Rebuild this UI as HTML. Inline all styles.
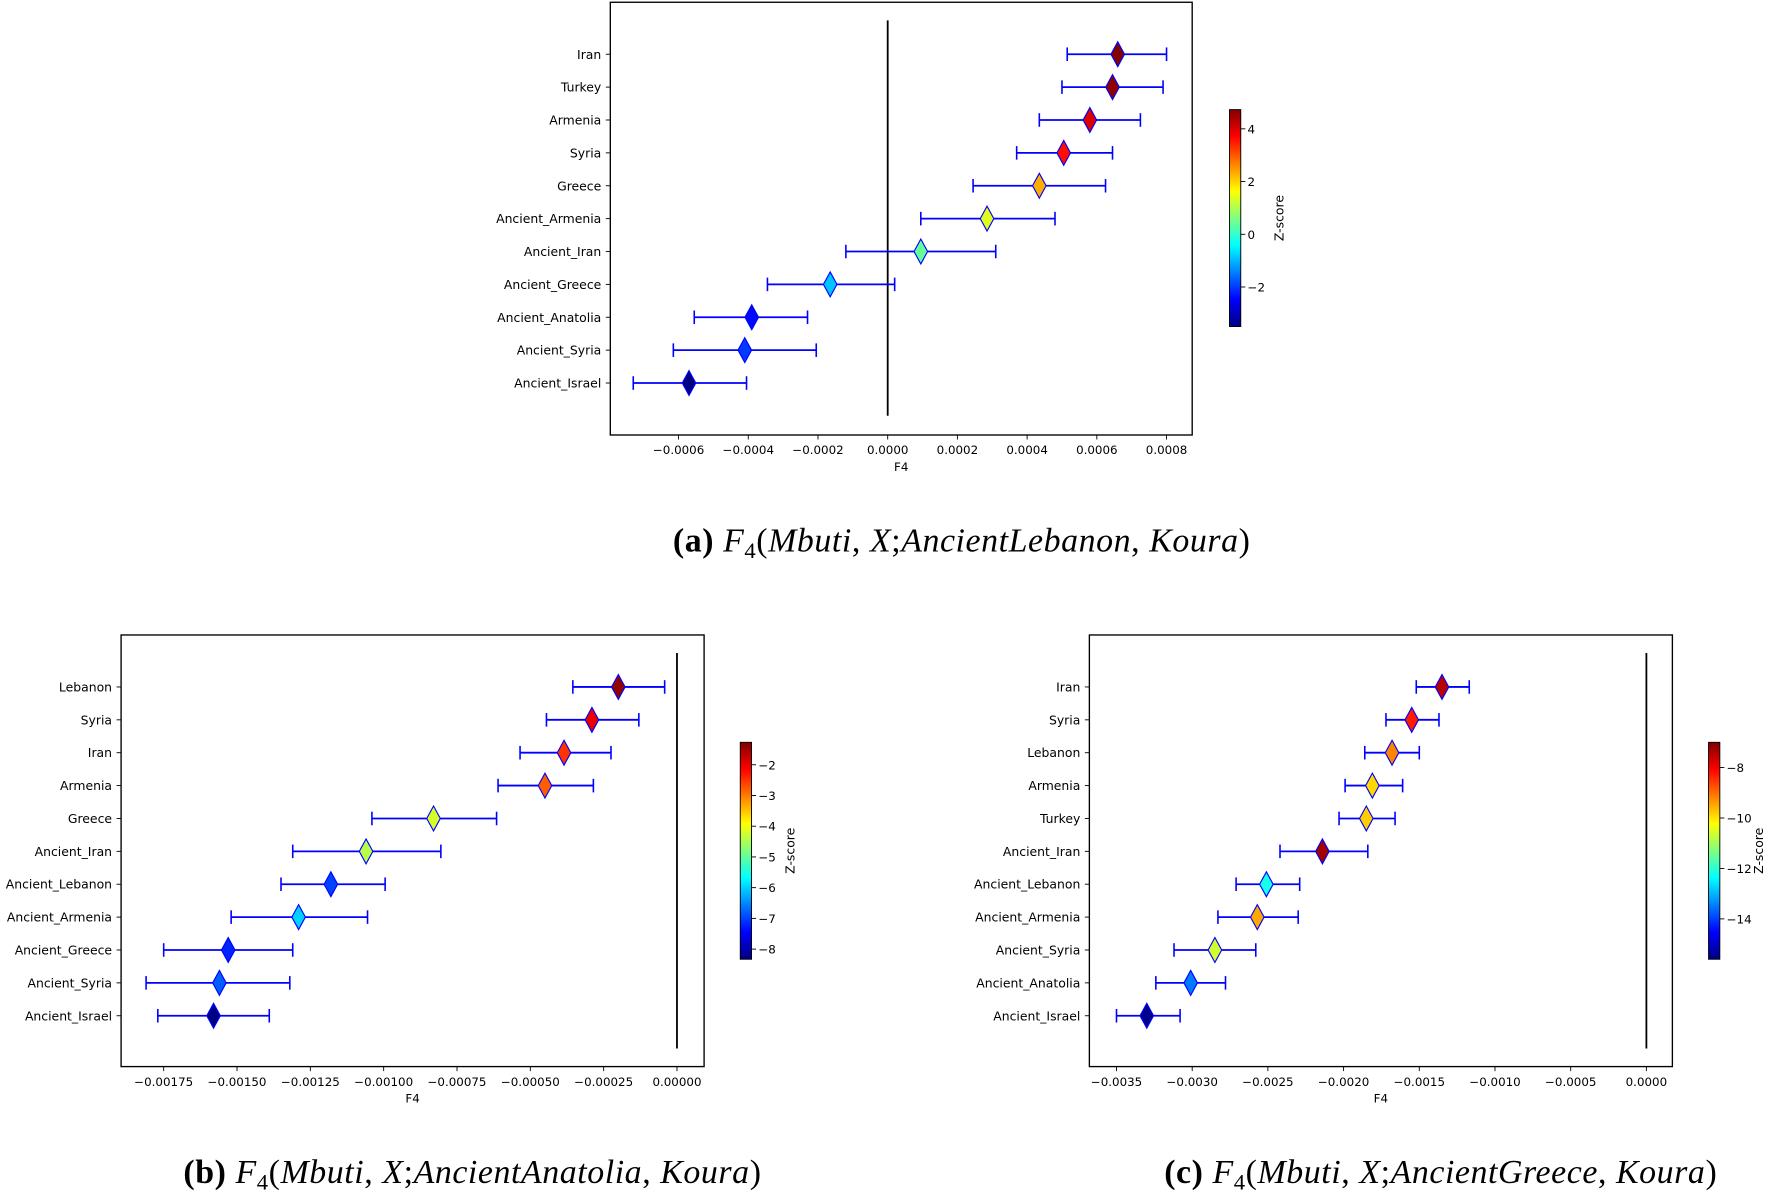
<!DOCTYPE html>
<html><head><meta charset="utf-8"><style>
html,body{margin:0;padding:0;background:#fff;}
svg{display:block;}
text{font-family:"DejaVu Sans","Liberation Sans",sans-serif;}
.cap{font-family:"Liberation Serif",serif;font-size:30px;letter-spacing:0.5px;}
</style></head><body>
<svg id="fig" width="1772" height="1192" viewBox="0 0 1568 1055" xmlns="http://www.w3.org/2000/svg"></svg>
<script>
// Panel (a)
const catsA = ["Iran","Turkey","Armenia","Syria","Greece","Ancient_Armenia","Ancient_Iran","Ancient_Greece","Ancient_Anatolia","Ancient_Syria","Ancient_Israel"];
const valA = [0.00066,0.000645,0.00058,0.000505,0.000435,0.000285,0.000095,-0.000165,-0.00039,-0.00041,-0.00057];
const loA = [0.000515,0.0005,0.000435,0.00037,0.000245,0.000095,-0.00012,-0.000345,-0.000555,-0.000615,-0.00073];
const hiA = [0.0008,0.00079,0.000725,0.000645,0.000625,0.00048,0.00031,0.00002,-0.00023,-0.000205,-0.000405];
const zA = [4.7,4.6,4.0,3.6,2.3,1.4,0.4,-0.9,-2.4,-2.0,-3.5];
const ticksA = [-0.0006,-0.0004,-0.0002,0,0.0002,0.0004,0.0006,0.0008];
const tickLabA = ["\u22120.0006","\u22120.0004","\u22120.0002","0.0000","0.0002","0.0004","0.0006","0.0008"];
const cbTicksA = [4,2,0,-2];
const cbLabA = ["4","2","0","\u22122"];
// Panel (b)
const catsB = ["Lebanon","Syria","Iran","Armenia","Greece","Ancient_Iran","Ancient_Lebanon","Ancient_Armenia","Ancient_Greece","Ancient_Syria","Ancient_Israel"];
const valB = [-0.0002,-0.00029,-0.000385,-0.00045,-0.00083,-0.00106,-0.00118,-0.00129,-0.00153,-0.00156,-0.00158];
const loB = [-0.000355,-0.000445,-0.000535,-0.00061,-0.00104,-0.00131,-0.00135,-0.00152,-0.00175,-0.00181,-0.00177];
const hiB = [-0.000042,-0.00013,-0.000225,-0.000285,-0.000615,-0.000805,-0.000995,-0.001055,-0.00131,-0.00132,-0.00139];
const zB = [-1.4,-2.0,-2.5,-2.8,-4.2,-4.4,-7.0,-6.0,-7.2,-6.8,-8.3];
const ticksB = [-0.00175,-0.0015,-0.00125,-0.001,-0.00075,-0.0005,-0.00025,0];
const tickLabB = ["\u22120.00175","\u22120.00150","\u22120.00125","\u22120.00100","\u22120.00075","\u22120.00050","\u22120.00025","0.00000"];
const cbTicksB = [-2,-3,-4,-5,-6,-7,-8];
const cbLabB = ["\u22122","\u22123","\u22124","\u22125","\u22126","\u22127","\u22128"];
// Panel (c)
const catsC = ["Iran","Syria","Lebanon","Armenia","Turkey","Ancient_Iran","Ancient_Lebanon","Ancient_Armenia","Ancient_Syria","Ancient_Anatolia","Ancient_Israel"];
const valC = [-0.00135,-0.00155,-0.00168,-0.00181,-0.00185,-0.00214,-0.00251,-0.00257,-0.00285,-0.00301,-0.0033];
const loC = [-0.00152,-0.00172,-0.00186,-0.00199,-0.00203,-0.00242,-0.00271,-0.00283,-0.00312,-0.00324,-0.0035];
const hiC = [-0.00117,-0.00137,-0.0015,-0.00161,-0.00166,-0.00184,-0.00229,-0.0023,-0.00258,-0.00278,-0.00308];
const zC = [-7.5,-8.3,-9.2,-9.9,-9.8,-7.3,-12.2,-9.5,-10.6,-13.5,-15.5];
const ticksC = [-0.0035,-0.003,-0.0025,-0.002,-0.0015,-0.001,-0.0005,0];
const tickLabC = ["\u22120.0035","\u22120.0030","\u22120.0025","\u22120.0020","\u22120.0015","\u22120.0010","\u22120.0005","0.0000"];
const cbTicksC = [-8,-10,-12,-14];
const cbLabC = ["\u22128","\u221210","\u221212","\u221214"];

const NS="http://www.w3.org/2000/svg";
const svg=document.getElementById('fig');
function mk(tag,attrs,parent){const e=document.createElementNS(NS,tag);for(const k in attrs)e.setAttribute(k,attrs[k]);(parent||svg).appendChild(e);return e;}
function jet(t){t=Math.max(0,Math.min(1,t));
 const r=Math.max(0,Math.min(1,Math.min(4*t-1.5,-4*t+4.5)));
 const g=Math.max(0,Math.min(1,Math.min(4*t-0.5,-4*t+3.5)));
 const b=Math.max(0,Math.min(1,Math.min(4*t+0.5,-4*t+2.5)));
 return `rgb(${Math.round(r*255)},${Math.round(g*255)},${Math.round(b*255)})`;}

function panel(cfg){
 const g=mk('g',{});
 
 
 const {fx0,fx1,fy0,fy1,x0v,x0p,pxPer,y0,dy}=cfg;
 const X=v=>x0p+(v-x0v)*pxPer;
 const Y=i=>y0+i*dy;
 mk('rect',{x:fx0,y:fy0,width:fx1-fx0,height:fy1-fy0,fill:'none',stroke:'#000','stroke-width':1.2},g);
 const vl=mk('line',{x1:X(0),x2:X(0),y1:cfg.vy0,y2:cfg.vy1,stroke:'#000','stroke-width':1.6},g);
 
 
 cfg.ticks.forEach((t,i)=>{
  mk('line',{x1:X(t),x2:X(t),y1:fy1,y2:fy1+4,stroke:'#000','stroke-width':0.8},g);
  const tx=mk('text',{x:X(t),y:fy1+17,'font-size':10.5,'text-anchor':'middle'},g);
  tx.textContent=cfg.tickLab[i];
  
  
 });
 const xl=mk('text',{x:(fx0+fx1)/2,y:fy1+32,'font-size':10.5,'text-anchor':'middle'},g);
 xl.textContent='F4';
 
 
 cfg.cats.forEach((c,i)=>{
  const y=Y(i);
  mk('line',{x1:fx0-4,x2:fx0,y1:y,y2:y,stroke:'#000','stroke-width':0.8},g);
  const tl=mk('text',{x:fx0-8,y:y+4,'font-size':11,'text-anchor':'end'},g);
  tl.textContent=c;
  
  
  const eb=mk('g',{},g);
  
  
  const a=X(cfg.lo[i]),b=X(cfg.hi[i]);
  mk('line',{x1:a,x2:b,y1:y,y2:y,stroke:'#0000ff','stroke-width':1.6},eb);
  mk('line',{x1:a,x2:a,y1:y-6,y2:y+6,stroke:'#0000ff','stroke-width':1.4},eb);
  mk('line',{x1:b,x2:b,y1:y-6,y2:y+6,stroke:'#0000ff','stroke-width':1.4},eb);
  const cx=X(cfg.val[i]);
  const t=(cfg.z[i]-cfg.zmin)/(cfg.zmax-cfg.zmin);
  const d=mk('polygon',{points:`${cx},${y-11} ${cx+6},${y} ${cx},${y+11} ${cx-6},${y}`,fill:jet(t),stroke:'#0000ff','stroke-width':1},g);
  
  
 });
 const cb=mk('g',{},g);
 
 
 const gid='grad'+cfg.name;
 const lg=mk('linearGradient',{id:gid,x1:0,y1:1,x2:0,y2:0},mk('defs',{},cb));
 for(let k=0;k<=8;k++){mk('stop',{offset:k/8,'stop-color':jet(k/8)},lg);}
 const {cx0,cy0,cy1}=cfg;
 mk('rect',{x:cx0,y:cy0,width:10,height:cy1-cy0,fill:`url(#${gid})`,stroke:'#000','stroke-width':0.8},cb);
 const ZY=z=>cy1-(z-cfg.zmin)/(cfg.zmax-cfg.zmin)*(cy1-cy0);
 cfg.cbTicks.forEach((z,i)=>{
  mk('line',{x1:cx0+10,x2:cx0+14,y1:ZY(z),y2:ZY(z),stroke:'#000','stroke-width':0.8},cb);
  const tt=mk('text',{x:cx0+16,y:ZY(z)+4,'font-size':10.5},cb);
  tt.textContent=cfg.cbLab[i];
  
  
 });
 const zl=mk('text',{x:0,y:0,'font-size':11,'text-anchor':'middle',transform:`translate(${cx0+48},${(cy0+cy1)/2}) rotate(-90)`},cb);
 zl.textContent='Z-score';
 
 
 const cp=mk('text',{x:cfg.capX,y:cfg.capY,'text-anchor':'middle',class:'cap'},g);
 
 
 cp.innerHTML=`<tspan font-weight="bold" font-style="normal">(${cfg.letter})</tspan><tspan font-style="italic"> F</tspan><tspan font-size="20" dy="6">4</tspan><tspan dy="-6">(</tspan><tspan font-style="italic">Mbuti</tspan>, <tspan font-style="italic">X</tspan>;<tspan font-style="italic">${cfg.capText}</tspan>, <tspan font-style="italic">Koura</tspan>)`;
}

panel({name:'panel-a',letter:'a',capText:'AncientLebanon',capX:851,capY:488,
 fx0:540,fx1:1055,fy0:2,fy1:385,x0v:0,x0p:785.5,pxPer:61.7/0.0002,y0:48,dy:29.1,vy0:18,vy1:368,
 cats:catsA,val:valA,lo:loA,hi:hiA,z:zA,zmin:-3.5,zmax:4.73,ticks:ticksA,tickLab:tickLabA,
 cx0:1088,cy0:97,cy1:289,cbTicks:cbTicksA,cbLab:cbLabA});
panel({name:'panel-b',letter:'b',capText:'AncientAnatolia',capX:418,capY:1047,
 fx0:107,fx1:623,fy0:562,fy1:944,x0v:0,x0p:599,pxPer:64.9/0.00025,y0:608,dy:29.1,vy0:578,vy1:928,
 cats:catsB,val:valB,lo:loB,hi:hiB,z:zB,zmin:-8.33,zmax:-1.27,ticks:ticksB,tickLab:tickLabB,
 cx0:655,cy0:657,cy1:849,cbTicks:cbTicksB,cbLab:cbLabB});
panel({name:'panel-c',letter:'c',capText:'AncientGreece',capX:1275,capY:1047,
 fx0:964,fx1:1480,fy0:562,fy1:944,x0v:0,x0p:1457,pxPer:67/0.0005,y0:608,dy:29.1,vy0:578,vy1:928,
 cats:catsC,val:valC,lo:loC,hi:hiC,z:zC,zmin:-15.6,zmax:-7.0,ticks:ticksC,tickLab:tickLabC,
 cx0:1512,cy0:657,cy1:849,cbTicks:cbTicksC,cbLab:cbLabC});
</script>
</body></html>
